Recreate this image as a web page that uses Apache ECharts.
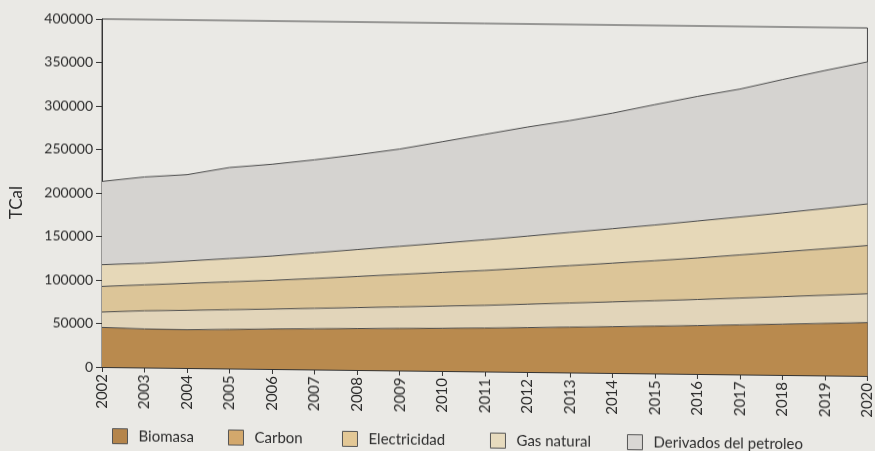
<!DOCTYPE html>
<html>
<head>
<meta charset="utf-8">
<script src="https://cdn.jsdelivr.net/npm/echarts@6/dist/echarts.min.js"></script>
<style>
  html, body { margin: 0; padding: 0; background: #eae9e5; }
  #chart { width: 875px; height: 451px; transform: skewY(0.67deg); transform-origin: 102px 367px; }
</style>
</head>
<body>
<div id="chart"></div>
<script>
const years = ['2002','2003','2004','2005','2006','2007','2008','2009','2010','2011','2012','2013','2014','2015','2016','2017','2018','2019','2020'];
const biomasa      = [45500, 44300, 44000, 44900, 46000, 46800, 47600, 48300, 49100, 49900, 51000, 52100, 53200, 54400, 55600, 57000, 58400, 59800, 61300];
const carbon       = [17700, 20900, 22300, 22700, 22900, 23500, 24100, 24800, 25500, 26100, 26900, 27700, 28500, 29200, 30000, 30800, 31600, 32400, 33200];
const electricidad = [29400, 29800, 31000, 32000, 33000, 34300, 35800, 37300, 38700, 40100, 41500, 43000, 44500, 46000, 47700, 49600, 51500, 53400, 55400];
const gasNatural   = [25000, 24800, 25700, 26800, 27900, 29500, 30900, 32300, 33700, 35300, 36700, 38200, 39600, 41000, 42500, 43600, 44800, 46300, 47800];
const derivados    = [95700, 99200, 99200, 104600, 105500, 106900, 109000, 111800, 116500, 121100, 125400, 128500, 132800, 138400, 143200, 147000, 153200, 158600, 163300];
const yTicks = { min: 0, max: 400000, interval: 50000 };

const names = ['Biomasa', 'Carbon', 'Electricidad', 'Gas natural', 'Derivados del petroleo'];
const bandColors = ['#b98a4e', '#e2d5ba', '#dcc598', '#e6d8b8', '#d5d3d0'];
const legendColors = ['#b5854b', '#d3a86c', '#e3c896', '#e7dbbe', '#d9d7d4'];
const legendLeft = [112, 228, 342, 490, 627];
const values = [biomasa, carbon, electricidad, gasNatural, derivados];

const font = 'Lato, "Open Sans", sans-serif';
const chart = echarts.init(document.getElementById('chart'));
chart.setOption({
  backgroundColor: 'transparent',
  animation: false,
  grid: { left: 102, right: 7, top: 19, bottom: 84, show: true, borderColor: '#444', borderWidth: 1, backgroundColor: 'transparent' },
  legend: names.map((n, i) => ({
    left: legendLeft[i], top: 428, padding: 0, itemWidth: 15, itemHeight: 15,
    selectedMode: false,
    textStyle: { fontFamily: font, fontSize: 15, color: '#2e2e2e', padding: [0, 0, 0, 6] },
    data: [{ name: n, icon: 'rect', itemStyle: { color: legendColors[i], borderColor: '#555', borderWidth: 1 } }]
  })),
  graphic: [{ type: 'text', left: 8, top: 187, rotation: Math.PI / 2, style: { text: 'TCal', font: '17px ' + font, fill: '#2a2a2a' } }],
  xAxis: {
    type: 'category', data: years, boundaryGap: false,
    axisLine: { lineStyle: { color: '#333', width: 1 } },
    axisTick: { length: 5, lineStyle: { color: '#333' } },
    axisLabel: { rotate: 90, interval: 0, margin: 7, fontFamily: font, fontSize: 15, color: '#2a2a2a' }
  },
  yAxis: {
    type: 'value', min: yTicks.min, max: yTicks.max, interval: yTicks.interval,
    splitLine: { show: false },
    axisLine: { show: true, lineStyle: { color: '#333', width: 1 } },
    axisTick: { show: true, length: 6, lineStyle: { color: '#333' } },
    axisLabel: { margin: 9, fontFamily: font, fontSize: 14, color: '#2a2a2a', formatter: v => String(v) }
  },
  series: names.map((n, i) => ({
    name: n, type: 'line', stack: 'total', data: values[i], showSymbol: false, symbol: 'none',
    lineStyle: { color: '#4a4a4a', width: 1 },
    itemStyle: { color: bandColors[i] },
    areaStyle: { color: bandColors[i], opacity: 1 }
  }))
});
</script>
</body>
</html>
